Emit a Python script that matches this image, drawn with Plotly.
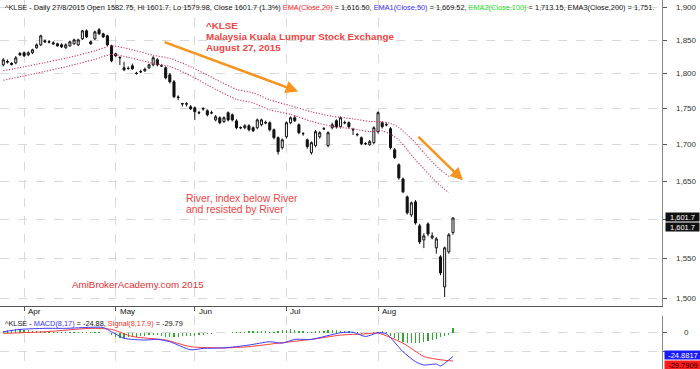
import math
import plotly.graph_objects as go

# ---------------- data ----------------
month_labels = ["Apr", "May", "Jun", "Jul", "Aug"]
month_start_idx = [5, 27, 46, 68, 90]

opens = [1813.2, 1817, 1815.4, 1816, 1830, 1831, 1828, 1831, 1838.4, 1842.8,
         1848.8, 1847.5, 1845.8, 1844.3, 1842.8, 1838.4, 1841.3, 1844.3, 1842.8, 1851.8,
         1863.8, 1847.3, 1851.8, 1865.4, 1859.3, 1856.3, 1841.3, 1829.4, 1824, 1808.8,
         1808, 1811.7, 1801, 1803, 1804.4, 1808.8, 1813.2, 1820.6, 1812, 1808.8,
         1798.6, 1788.5, 1766.5, 1757.2, 1757, 1752.6, 1751.2, 1744.5, 1749.5, 1747,
         1744.2, 1734.1, 1737.1, 1731.5, 1744.2, 1741.3, 1732.7, 1723.3, 1723.1, 1725.9,
         1723.1, 1723.1, 1727.3, 1729.5, 1730.1, 1720.3, 1709.3, 1695.6, 1710.6, 1730.1,
         1737.1, 1727.3, 1715, 1706.3, 1688.7, 1698.3, 1710.6, 1721.5, 1698.3, 1723.1,
         1732.9, 1724.5, 1730.3, 1730.1, 1720.5, 1713.6, 1709.3, 1701.2, 1699.6, 1702.4,
         1717.6, 1730.1, 1727.5, 1721.7, 1692.5, 1672.1, 1653.1, 1629.2, 1605.6, 1622.6,
         1591.4, 1573.4, 1593.9, 1576, 1563.3, 1551.9, 1514.6, 1558.2, 1582.75]
highs = [1823, 1821, 1817, 1826, 1832, 1833, 1833, 1837, 1845, 1858,
         1851, 1850, 1848, 1846, 1845, 1845, 1849, 1852, 1852, 1865,
         1866, 1849, 1864, 1868, 1861, 1858, 1843, 1831, 1826, 1817.6,
         1811, 1815, 1803, 1806, 1809, 1815, 1826, 1823, 1814, 1811,
         1801, 1791, 1769, 1758, 1759, 1755, 1753, 1747, 1752, 1749,
         1747, 1741, 1739, 1739, 1746, 1743, 1735, 1725, 1728, 1728,
         1725, 1736, 1736, 1733, 1732, 1722, 1711, 1708, 1732, 1739,
         1741, 1729, 1717, 1708, 1704, 1720, 1718, 1724, 1718, 1730,
         1735, 1739, 1733, 1732, 1723, 1716, 1711, 1703, 1706, 1725,
         1746, 1732, 1730, 1724, 1695, 1674, 1655, 1631, 1623, 1625,
         1594, 1582, 1596, 1583, 1577, 1554, 1565, 1582, 1601.7]
lows = [1811, 1815, 1812, 1814, 1826, 1825, 1826, 1829, 1837, 1841,
        1846, 1845, 1843, 1840, 1838, 1837, 1840, 1843, 1841, 1850,
        1853, 1843, 1850, 1858, 1853, 1841, 1817, 1825, 1813, 1804,
        1806, 1806, 1799, 1801, 1803, 1807, 1811, 1811, 1810, 1792,
        1786, 1765, 1762, 1753, 1753, 1748, 1734, 1742, 1747, 1739,
        1742, 1732, 1728, 1730, 1732, 1732, 1721, 1721, 1721, 1718,
        1717, 1721, 1725, 1728, 1718, 1707, 1686, 1693, 1708, 1728,
        1731, 1714, 1712, 1694, 1686, 1696, 1708, 1720, 1696, 1721,
        1722, 1722, 1728, 1722, 1713, 1711, 1699, 1699, 1698, 1700,
        1715, 1722, 1725, 1693, 1680, 1652, 1634, 1606, 1603, 1593,
        1568, 1563, 1578, 1574, 1556, 1529, 1502.4, 1556, 1579.98]
closes = [1820.6, 1818, 1814, 1823.5, 1828, 1826.5, 1831, 1835.4, 1842.8, 1856.3,
          1847.3, 1847, 1844.3, 1841.3, 1839.9, 1842.8, 1847.3, 1850.3, 1850.3, 1863.8,
          1854.8, 1844.3, 1862.3, 1859.3, 1854.8, 1842.8, 1819.1, 1826.5, 1823.5, 1806,
          1807.8, 1807.4, 1800.5, 1803.2, 1806.7, 1813.2, 1823.5, 1813.2, 1811.5, 1794.3,
          1788.5, 1767, 1766, 1756.8, 1756.5, 1749.8, 1745.6, 1744, 1750, 1741.3,
          1744, 1738.5, 1730.1, 1737.1, 1734.1, 1734.1, 1723.1, 1723, 1725.9, 1720.3,
          1719, 1734.1, 1734.1, 1730.5, 1720.3, 1709.3, 1690, 1706.3, 1730.1, 1737.1,
          1732.9, 1716.2, 1714.8, 1696.9, 1702.4, 1717.6, 1716.2, 1721.7, 1716.2, 1727.3,
          1724.5, 1737.1, 1730, 1724.5, 1720.3, 1713.4, 1701, 1701, 1703.8, 1723.1,
          1744.2, 1724.5, 1727.3, 1695.6, 1681.9, 1654.5, 1635.9, 1608.3, 1621.3, 1595.2,
          1570.9, 1578.5, 1580.9, 1578.5, 1574.7, 1531.9, 1563.3, 1579.9, 1601.7]

river_idx = [0, 8, 16, 22, 26, 30, 36, 40, 45, 51, 56, 60, 64, 69, 74, 79, 84, 88,
             91, 93, 95, 97, 99, 101, 103, 105, 107]
river_upper = [1804.5, 1814.0, 1824.3, 1833.9, 1841.4, 1836.9, 1827.3, 1822.8, 1810.4,
               1792.0, 1777.5, 1772.5, 1762.5, 1754.0, 1745.5, 1739.1, 1735.5, 1732.0,
               1731.3, 1729.2, 1723.6, 1713.2, 1702.2, 1688.4, 1676.1, 1665.3, 1656.5]
river_lower = [1790.6, 1800.9, 1811.8, 1821.3, 1828.7, 1824.3, 1815.5, 1810.8, 1797.2,
               1777.5, 1763.2, 1758.2, 1748.3, 1741.9, 1732.0, 1725.0, 1721.5, 1717.7,
               1718.7, 1713.9, 1706.3, 1692.5, 1678.8, 1666.7, 1654.5, 1643.8, 1634.6]

macd_idx = [0, 4, 10, 15, 21, 24, 26, 29, 34, 37, 40, 45, 48, 53, 59, 64, 67, 70, 74,
            81, 84, 87, 90, 92, 96, 99, 101, 104, 105, 108]
macd_vals = [1, 3.5, 4.6, 4.6, 5.7, 5.5, 1, -5.9, -7.7, -7, -9.5, -18, -16.5, -16, -13,
             -9.5, -11, -7, -7, 0, 0.5, -4, 0, -1.2, -20, -30.5, -34, -33, -35, -24.88]
signal_idx = [0, 10, 21, 26, 31, 39, 45, 53, 59, 66, 74, 81, 87, 90, 96, 101, 105, 108]
signal_vals = [-0.7, 1, 4.6, 3.5, -4, -7.7, -14.7, -16, -14.7, -11, -7, -2.5, -1.2, -0.3,
               -11, -25, -28.5, -29.79]
hist_vals = [2, 3, 3, 4, 4, 3, 3, 2, 2, 2, 1,
             0.5, 0.5, 0.3, 0.3, 0.3, 0.5, 0.5, 0.5, 0.3, 0.3, 0.5, 0.5, 0.3, 0.2, -0.5,
             -2, -4, -6, -6, -5, -5, -4, -3, -3, -2,
             -2, -2, -3, -4, -4, -4, -4, -3, -3,
             -3, -3, -2, -2, -1.5, -1, -0.5, -0.3, -0.3, -0.2, 0.3,
             0.5, 1, 1, 1.5, 1.5, 2, 2, 1.5, 1, 1, 1.5,
             2.5, 3, 3.5, 3, 2, 1.5, 1,
             1, 1.5, 2, 2, 2.5, 2.5, 2.5, 2, 2, 1.5, 1, 0.5,
             -1, -1.5, -1, 0.5,
             1, 1.5, 0.5,
             -3, -6, -8, -9.5, -10.5, -11, -11, -10.5, -10, -9, -8, -6.5, -5, -3.5, -2,
             4.9]

price_ticks = [1500, 1550, 1600, 1650, 1700, 1750, 1800, 1850, 1900]
macd_ticks = [0, -20]
# tick labels covered by the last-value boxes in the original
hidden_price_labels = [1600]
hidden_macd_labels = [-20]

# ---------------- layout helpers ----------------
W, H = 700, 369
PW = 662  # plot width (right margin for axis labels)


def px(xp):
    return xp / PW


def py(yp):
    return 1 - yp / H


bar_idx = list(range(len(closes)))
FONT = "Liberation Sans, Arial, sans-serif"

fig = go.Figure()

fig.add_trace(go.Candlestick(
    x=bar_idx, open=opens, high=highs, low=lows, close=closes,
    increasing=dict(line=dict(color="#111111", width=1), fillcolor="white"),
    decreasing=dict(line=dict(color="#111111", width=1), fillcolor="#111111"),
    whiskerwidth=0, xaxis="x", yaxis="y", hoverinfo="skip", showlegend=False))

for vals in (river_upper, river_lower):
    fig.add_trace(go.Scatter(
        x=river_idx, y=vals, mode="lines", xaxis="x", yaxis="y",
        line=dict(color="rgb(214,55,100)", width=1.1, dash="1.2px,1.6px",
                  shape="spline", smoothing=0.6),
        hoverinfo="skip", showlegend=False))

fig.add_trace(go.Bar(
    x=bar_idx, y=hist_vals, width=0.3, marker=dict(color="#2eaa2e", line=dict(width=0)),
    xaxis="x2", yaxis="y2", hoverinfo="skip", showlegend=False))
fig.add_trace(go.Scatter(
    x=signal_idx, y=signal_vals, mode="lines", xaxis="x2", yaxis="y2",
    line=dict(color="#ff3b3b", width=1, shape="spline", smoothing=0.6),
    hoverinfo="skip", showlegend=False))
fig.add_trace(go.Scatter(
    x=macd_idx, y=macd_vals, mode="lines", xaxis="x2", yaxis="y2",
    line=dict(color="#3a3aff", width=1, shape="spline", smoothing=0.6),
    hoverinfo="skip", showlegend=False))

xr = [-0.79, 158.2]
grid = dict(showgrid=True, gridcolor="#d9d9d9", griddash="dash", gridwidth=1)

fig.update_layout(
    width=W, height=H, margin=dict(l=0, r=W - PW, t=0, b=0),
    paper_bgcolor="white", plot_bgcolor="white", showlegend=False,
    font=dict(family=FONT, size=8, color="#222222"),
    bargap=0,
    xaxis=dict(domain=[0, 1], range=xr, anchor="y", tickvals=month_start_idx,
               showticklabels=False, ticks="outside", ticklen=4, tickcolor="#555555",
               showline=True, linecolor="#555555", linewidth=1, zeroline=False,
               rangeslider=dict(visible=False), **grid),
    yaxis=dict(domain=[py(305.7), 1], type="log",
               range=[math.log10(1491.7), math.log10(1911)], side="right",
               tickvals=price_ticks, showticklabels=False, ticks="outside", ticklen=4,
               tickcolor="#555555", showline=True, linecolor="#888888", linewidth=1,
               zeroline=False, **grid),
    xaxis2=dict(domain=[0, 1], range=xr, anchor="y2", tickvals=month_start_idx,
                showticklabels=False, ticks="", showline=False, zeroline=False, **grid),
    yaxis2=dict(domain=[0, py(316)], range=[-38.2, 17.6], side="right",
                tickvals=macd_ticks, showticklabels=False, ticks="outside", ticklen=4,
                tickcolor="#555555", showline=True, linecolor="#888888", linewidth=1,
                zeroline=False, **grid),
)

ann = []

# header line
hdr = ("^KLSE - Daily 27/8/2015 Open 1582.75, Hi 1601.7, Lo 1579.98, Close 1601.7 (1.3%) "
       "<span style='color:#ff2a2a'>EMA(Close,20)</span> = 1,616.50, "
       "<span style='color:#3434ff'>EMA1(Close,50)</span> = 1,669.52, "
       "<span style='color:#22dd22'>EMA2(Close,100)</span> = 1,713.15, "
       "EMA3(Close,200) = 1,751.")
ann.append(dict(text=hdr, xref="paper", yref="paper", x=px(3), y=py(0.5),
                xanchor="left", yanchor="top", showarrow=False,
                font=dict(size=7.35, color="#111111", family=FONT)))

red = "#f04545"
for t, yc in (("^KLSE", 25), ("Malaysia Kuala Lumpur Stock Exchange", 36.2),
              ("August 27, 2015", 47)):
    ann.append(dict(text="<b>" + t + "</b>", xref="paper", yref="paper", x=px(204),
                    y=py(yc), xanchor="left", yanchor="middle", showarrow=False,
                    font=dict(size=9.8, color=red, family=FONT)))

for t, yc in (("River, index below River", 198), ("and resisted by River", 209.5)):
    ann.append(dict(text=t, xref="paper", yref="paper", x=px(184), y=py(yc),
                    xanchor="left", yanchor="middle", showarrow=False,
                    font=dict(size=10.4, color=red, family=FONT)))

ann.append(dict(text="AmiBrokerAcademy.com 2015", xref="paper", yref="paper", x=px(70),
                y=py(284), xanchor="left", yanchor="middle", showarrow=False,
                font=dict(size=9.8, color="#e03030", family=FONT)))

# orange arrows
orange = "#f7931e"
ann.append(dict(x=70.8, y=math.log10(1774.4), xref="x", yref="y", ax=-135, ay=-50,
                axref="pixel", ayref="pixel", showarrow=True, arrowhead=2, arrowsize=1,
                arrowwidth=2.5, arrowcolor=orange, text=""))
ann.append(dict(x=110.4, y=math.log10(1651.2), xref="x", yref="y", ax=-46, ay=-45,
                axref="pixel", ayref="pixel", showarrow=True, arrowhead=2, arrowsize=1,
                arrowwidth=2.5, arrowcolor=orange, text=""))

# month labels
for lab, i in zip(month_labels, month_start_idx):
    ann.append(dict(text=lab, xref="x", yref="paper", x=i, y=py(311.5), xanchor="left",
                    yanchor="middle", xshift=2, showarrow=False,
                    font=dict(size=8, color="#111111", family=FONT)))

# price tick labels (centered, AmiBroker style)
for v in price_ticks:
    if v in hidden_price_labels:
        continue
    ann.append(dict(text=f"{v:,}", xref="paper", yref="y", x=px(686.5), y=math.log10(v),
                    xanchor="center", yanchor="middle", showarrow=False,
                    font=dict(size=8, color="#333333", family=FONT)))
for v in macd_ticks:
    if v in hidden_macd_labels:
        continue
    ann.append(dict(text=f"{v}", xref="paper", yref="y2", x=px(686), y=v,
                    xanchor="center", yanchor="middle", showarrow=False,
                    font=dict(size=8, color="#333333", family=FONT)))

# last value boxes
last = closes[-1]
for dy in (-0.5, 9.3):
    ann.append(dict(text=f"{last:,.1f}", xref="paper", yref="y", x=px(665),
                    y=math.log10(last), yshift=-dy, xanchor="left", yanchor="middle",
                    showarrow=False, bgcolor="#111111", borderpad=0, height=8, width=33,
                    font=dict(size=7.5, color="white", family=FONT)))
ann.append(dict(text=f"{macd_vals[-1]:.4f}".replace("-24.8800", "-24.8817"), xref="paper",
                yref="y2", x=px(664), y=macd_vals[-1], yshift=1.3, xanchor="left",
                yanchor="middle", showarrow=False, bgcolor="#1a1aff", borderpad=0,
                height=8, width=36, font=dict(size=7.5, color="white", family=FONT)))
ann.append(dict(text=f"{signal_vals[-1]:.4f}".replace("-29.7900", "-29.7909"), xref="paper",
                yref="y2", x=px(664), y=signal_vals[-1], yshift=-3.5, xanchor="left",
                yanchor="middle", showarrow=False, bgcolor="#ff1a1a", borderpad=0,
                height=8, width=36, font=dict(size=7.5, color="#220000", family=FONT)))

# MACD header
mh = ("^KLSE - <span style='color:#3434ff'>MACD(8,17)</span> = -24.88, "
      "<span style='color:#ff2a2a'>Signal(8,17,9)</span> = -29.79")
ann.append(dict(text=mh, xref="paper", yref="paper", x=px(3), y=py(323),
                xanchor="left", yanchor="middle", showarrow=False,
                font=dict(size=7.35, color="#111111", family=FONT)))

fig.update_layout(annotations=ann)

# red rectangle (on log axis -> log10 coords)
fig.add_shape(type="rect", xref="x", yref="y", x0=64.5, x1=94.9,
              y0=math.log10(1709.7), y1=math.log10(1763.5),
              line=dict(color="#ee4040", width=2), fillcolor="rgba(0,0,0,0)")

fig.write_html(
    "out.html",
    config={"displayModeBar": False, "staticPlot": True},
    post_script="document.body.style.margin='0';document.body.style.overflow='hidden';")
